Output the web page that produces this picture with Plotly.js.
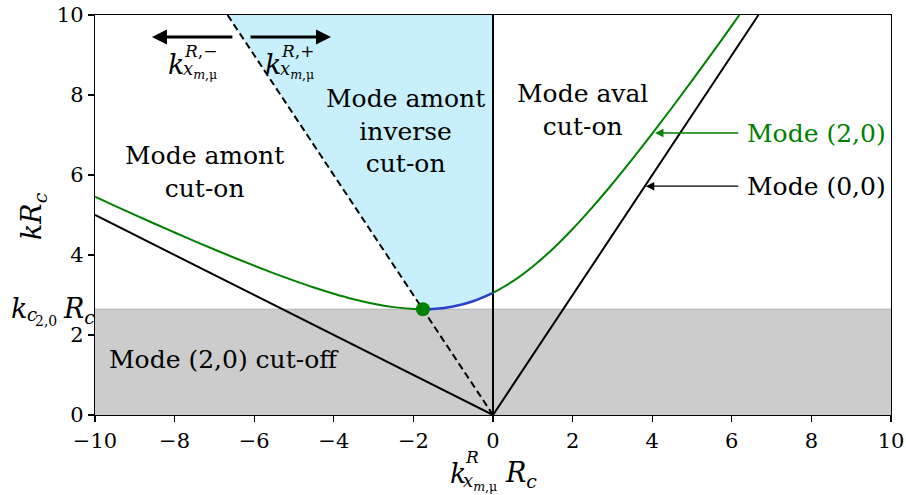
<!DOCTYPE html>
<html>
<head>
<meta charset="utf-8">
<script src="https://cdn.plot.ly/plotly-3.0.1.min.js"></script>
<style>html,body{margin:0;padding:0;background:#fff;}#chart{width:906px;height:495px;}</style>
</head>
<body>
<div id="chart"></div>
<script>
// ---- data ----
const KC_MIN = 2.645;               // cut-off level k_c(2,0) R_c (min of mode (2,0))
const MIN_X = -1.76;                // kx at minimum
// Mode (2,0), upstream part (green)
const m20LeftX = [-10, -9.5, -9, -8.5, -8, -7.5, -7, -6.5, -6, -5.5, -5, -4.5, -4, -3.5, -3, -2.5, -2, -1.76];
const m20LeftY = [5.456, 5.229, 5.004, 4.782, 4.563, 4.348, 4.137, 3.932, 3.733, 3.541, 3.359, 3.188, 3.033, 2.895, 2.781, 2.697, 2.651, 2.645];
// Mode (2,0), inverse upstream part (blue)
const m20MidX = [-1.76, -1.5, -1, -0.5, 0];
const m20MidY = [2.645, 2.652, 2.714, 2.845, 3.054];
// Mode (2,0), downstream part (green)
const m20RightX = [0, 0.5, 1, 1.5, 2, 2.5, 3, 3.5, 4, 4.5, 5, 5.5, 6, 6.19];
const m20RightY = [3.054, 3.345, 3.714, 4.152, 4.651, 5.197, 5.781, 6.395, 7.033, 7.688, 8.359, 9.041, 9.733, 10.0];
// Mode (0,0) (black)
const m00X = [-10, 0, 6.67];
const m00Y = [5, 0, 10];
// Dashed separation line
const dashX = [0, -6.67];
const dashY = [0, 10];
// Vertical line kx = 0
const vertX = [0, 0];
const vertY = [0, 10];
// Inverse cut-on region (blue fill) boundary
const fillX = [-6.67, 0].concat(m20MidX.slice().reverse()).concat([-6.67]);
const fillY = [10, 10].concat(m20MidY.slice().reverse()).concat([10]);
// Ticks
const xTicks = [-10, -8, -6, -4, -2, 0, 2, 4, 6, 8, 10];
const xTickText = ['\u221210', '\u22128', '\u22126', '\u22124', '\u22122', '0', '2', '4', '6', '8', '10'];
const yTicks = [0, 2, 4, 6, 8, 10];
const yTickText = ['0', '2', '4', '6', '8', '10'];

const FONT = 'DejaVu Serif';
const BLK = '#000000', GRN = '#008000', BLU = '#2a3fd0';

const traces = [
  {x: fillX, y: fillY, mode: 'lines', fill: 'toself', fillcolor: '#c8f0fc', line: {width: 0}, hoverinfo: 'skip'},
  {x: m00X, y: m00Y, mode: 'lines', line: {color: BLK, width: 2}},
  {x: dashX, y: dashY, mode: 'lines', line: {color: BLK, width: 2, dash: '7px,4px'}},
  {x: vertX, y: vertY, mode: 'lines', line: {color: BLK, width: 2}},
  {x: m20LeftX, y: m20LeftY, mode: 'lines', line: {color: GRN, width: 2, shape: 'spline'}},
  {x: m20MidX, y: m20MidY, mode: 'lines', line: {color: BLU, width: 2.5, shape: 'spline'}},
  {x: m20RightX, y: m20RightY, mode: 'lines', line: {color: GRN, width: 2, shape: 'spline'}},
  {x: [MIN_X], y: [KC_MIN], mode: 'markers', marker: {color: GRN, size: 14}}
];

function txt(x, y, t, size, opts) {
  return Object.assign({x: x, y: y, xref: 'x', yref: 'y', text: t, showarrow: false,
    xanchor: 'center', yanchor: 'middle',
    font: {family: FONT, size: size, color: BLK}}, opts || {});
}
function ptxt(px, py, t, size, opts) {
  // pixel-positioned text in the figure (converted to paper coords)
  return Object.assign({x: (px - 95) / 796, y: (415 - py) / 400, xref: 'paper', yref: 'paper',
    xanchor: 'center', yanchor: 'middle',
    text: t, showarrow: false, font: {family: FONT, size: size, color: BLK}}, opts || {});
}
function arrow(x, y, ax, ay, color, width, size) {
  return {x: x, y: y, ax: ax, ay: ay, xref: 'x', yref: 'y', axref: 'x', ayref: 'y', text: '',
    showarrow: true, arrowhead: 2, arrowsize: size, arrowwidth: width, arrowcolor: color};
}

const annotations = [
  txt(-7.24, 6.08, 'Mode amont<br>cut-on', 25),
  txt(-2.21, 7.1, 'Mode amont<br>inverse<br>cut-on', 25),
  txt(2.24, 7.63, 'Mode aval<br>cut-on', 25),
  txt(-6.76, 1.38, 'Mode (2,0) cut-off', 25),
  txt(6.33, 7.05, 'Mode (2,0)', 25, {xanchor: 'left', font: {family: FONT, size: 25, color: GRN}}),
  txt(6.33, 5.72, 'Mode (0,0)', 25, {xanchor: 'left'}),
  arrow(4.07, 7.05, 6.2, 7.05, GRN, 1.3, 1.3),
  arrow(3.84, 5.72, 6.2, 5.72, BLK, 1.3, 1.3),
  arrow(-8.57, 9.45, -6.51, 9.45, BLK, 3, 1),
  arrow(-4.07, 9.45, -6.13, 9.45, BLK, 3, 1),
  // top labels k^{R,-}_{x_{m,mu}} and k^{R,+}_{x_{m,mu}}
  ptxt(176, 64, '<i>k</i>', 27),
  ptxt(182, 51, '<i>R</i>,\u2212', 17, {xanchor: 'left'}),
  ptxt(181, 70, '<i>x</i><sub><i>m</i>,\u03bc</sub>', 18, {xanchor: 'left'}),
  ptxt(273, 64, '<i>k</i>', 27),
  ptxt(279, 51, '<i>R</i>,+', 17, {xanchor: 'left'}),
  ptxt(278, 70, '<i>x</i><sub><i>m</i>,\u03bc</sub>', 18, {xanchor: 'left'}),
  // x axis title
  ptxt(458, 473, '<i>k</i>', 27),
  ptxt(463, 457, '<i>R</i>', 17, {xanchor: 'left'}),
  ptxt(461, 482, '<i>x</i><sub><i>m</i>,\u03bc</sub>', 18, {xanchor: 'left'}),
  ptxt(503, 475, '<i>R</i><sub><i>c</i></sub>', 27, {xanchor: 'left'}),
  // y axis title
  ptxt(34, 216, '<i>kR</i><sub><i>c</i></sub>', 27, {textangle: -90}),
  // special y tick label k_{c_{2,0}} R_c
  ptxt(19, 308, '<i>k</i>', 27),
  ptxt(25, 314, '<i>c</i>', 18, {xanchor: 'left'}),
  ptxt(33, 321, '2,0', 14, {xanchor: 'left'}),
  ptxt(61, 310, '<i>R</i><sub><i>c</i></sub>', 27, {xanchor: 'left'})
];

const layout = {
  width: 906, height: 495,
  margin: {l: 95, r: 15, t: 15, b: 80},
  paper_bgcolor: '#ffffff', plot_bgcolor: '#ffffff',
  showlegend: false,
  font: {family: FONT, size: 21, color: BLK},
  xaxis: {range: [-10, 10], tickvals: xTicks, ticktext: xTickText, ticks: 'outside', ticklen: 6,
    tickwidth: 1.3, tickcolor: BLK, showline: true, linecolor: BLK, linewidth: 1.3, mirror: true,
    showgrid: false, zeroline: false, tickfont: {family: FONT, size: 21, color: BLK}},
  yaxis: {range: [0, 10], tickvals: yTicks, ticktext: yTickText, ticks: 'outside', ticklen: 6,
    tickwidth: 1.3, tickcolor: BLK, showline: true, linecolor: BLK, linewidth: 1.3, mirror: true,
    showgrid: false, zeroline: false, tickfont: {family: FONT, size: 21, color: BLK}},
  shapes: [
    {type: 'rect', xref: 'x', yref: 'y', x0: -10, x1: 10, y0: 0, y1: KC_MIN, layer: 'below',
      fillcolor: '#cccccc', line: {width: 0}},
    {type: 'line', xref: 'x', yref: 'y', x0: -10, x1: 10, y0: KC_MIN, y1: KC_MIN, layer: 'below',
      line: {color: '#b0b0b0', width: 1}}
  ],
  annotations: annotations
};

Plotly.newPlot('chart', traces, layout, {displayModeBar: false, staticPlot: true});
</script>
</body>
</html>
